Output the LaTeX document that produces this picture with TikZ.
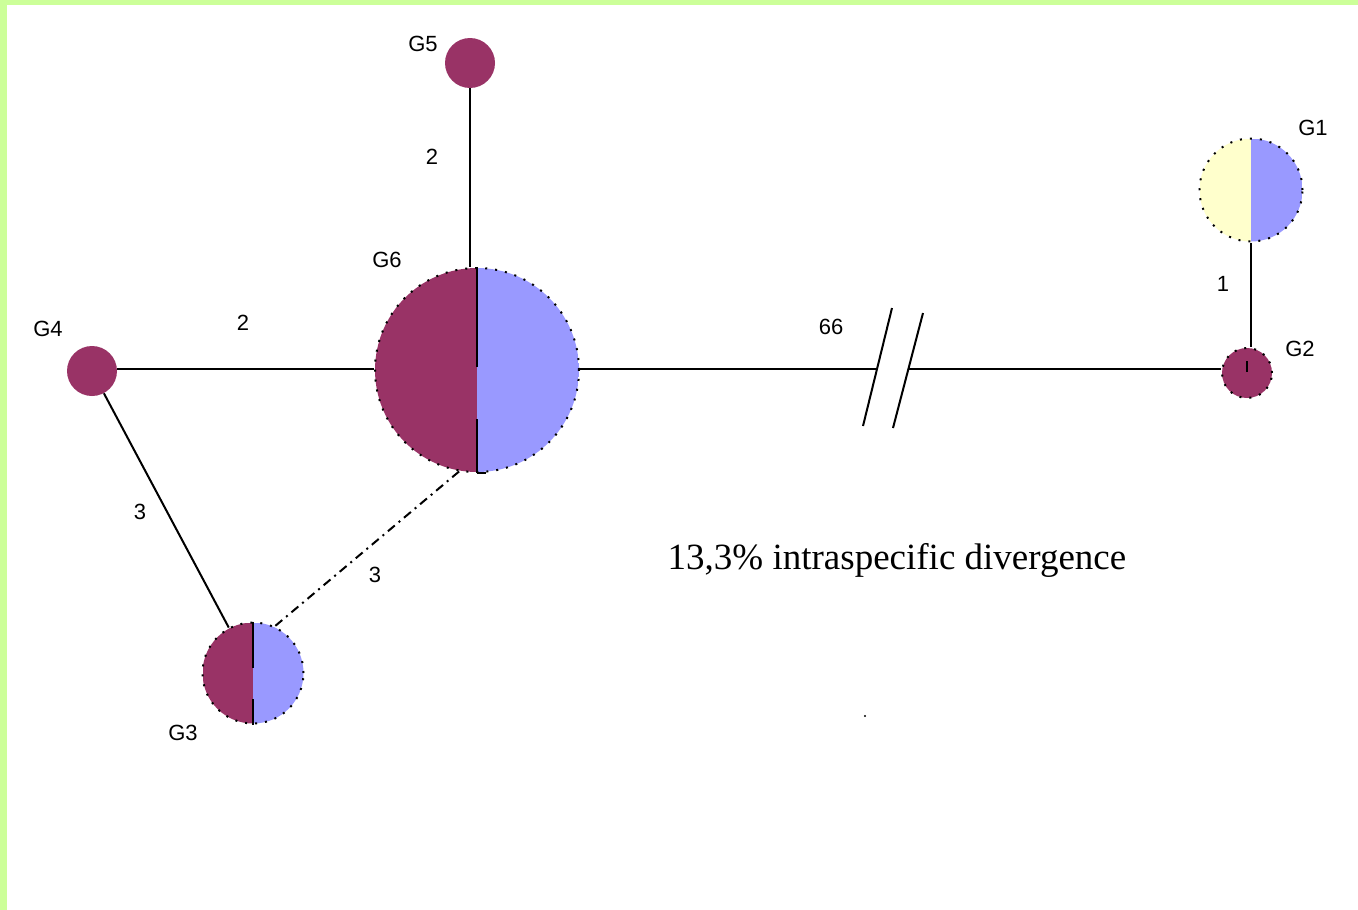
\documentclass[tikz,border=0pt]{standalone}
\usepackage{fontspec}
\setmainfont{Liberation Serif}
\newfontfamily\labfont{Liberation Sans}
\definecolor{hmaroon}{HTML}{993366}
\definecolor{hblue}{HTML}{9999FF}
\definecolor{hyellow}{HTML}{FFFFCC}
\definecolor{framegreen}{HTML}{CCFF99}
\begin{document}
\begin{tikzpicture}[x=1pt,y=-1pt,
  hap/.style={circle, inner sep=0pt, minimum size=#1},
  halves/.style 2 args={path picture={
      \fill[#1] (path picture bounding box.south west) rectangle (path picture bounding box.north);
      \fill[#2] (path picture bounding box.south) rectangle (path picture bounding box.north east);}},
  dotring/.style={draw=black, line width=2pt, dash pattern=on 2pt off 8pt},
  lab/.style={font=\labfont\fontsize{22}{22}\selectfont, inner sep=0pt},
  link/.style={draw=black, line width=2pt},
  dashdot/.style={draw=black, line width=2pt, dash pattern=on 9pt off 5pt on 2pt off 5pt},
  splitline/.style={draw=black, line width=2.4pt}
]
\useasboundingbox (0,0) rectangle (1358,910);
\fill[white] (0,0) rectangle (1358,910);
\fill[framegreen] (0,0) rectangle (1358,5);
\fill[framegreen] (0,0) rectangle (7,910);

% haplotype nodes
\node[hap=204pt, halves={hmaroon}{hblue}, dotring] (G6) at (477,370) {};
\node[hap=50pt, fill=hmaroon] (G5) at (470,63) {};
\node[hap=50pt, fill=hmaroon] (G4) at (92,371) {};
\node[hap=101pt, halves={hmaroon}{hblue}, dotring] (G3) at (253,673) {};
\node[hap=103pt, halves={hyellow}{hblue}, dotring] (G1) at (1251,190) {};
\node[hap=50pt, fill=hmaroon, dotring] (G2) at (1247,373) {};

% split lines
\draw[splitline] (G6.north) -- ++(0,100);
\draw[splitline] (G6.south) -- ++(0,-54);
\draw[splitline] (G6.south) -- ++(9,0);
\draw[splitline] (G3.north) -- ++(0,46);
\draw[splitline] (G3.south) -- ++(0,-26);
\draw[link] (G2.center) ++(0,-12) -- ++(0,11);

% break marks
\coordinate (b1) at (877,369);
\coordinate (b2) at (908,369);
\draw[link] (892,308) -- (863,426);
\draw[link] (923,313) -- (893,428);

% connectors
\draw[link] (G5.south) -- (G5.south |- G6.north);
\draw[link] (G4.east |- b1) -- (G6.west |- b1);
\draw[link] (G6.east |- b1) -- (b1);
\draw[link] (b2) -- (b2 -| G2.west);
\draw[link] (G1.south) -- (G1.south |- G2.north);
\draw[link] (G4) -- (G3);
\draw[dashdot] (G6.-100) -- (G3.65);

% labels
\node[lab] (lG5) at (423,44) {G5};
\node[lab] (lG6) at (387,260) {G6};
\node[lab] (lG4) at (48,329) {G4};
\node[lab] (lG3) at (183,733) {G3};
\node[lab] (lG1) at (1313,128) {G1};
\node[lab] (lG2) at (1300,349) {G2};
\node[lab] (e56) at (432,157) {2};
\node[lab] (e46) at (243,323) {2};
\node[lab] (e62) at (831,327) {66};
\node[lab] (e12) at (1223,284) {1};
\node[lab] (e43) at (140,512) {3};
\node[lab] (e63) at (375,575) {3};

\node[font=\fontsize{37}{37}\selectfont, inner sep=0pt] (div) at (897,560) {13,3\% intraspecific divergence};
\fill[black] (865,716) circle (1.2pt);
\end{tikzpicture}
\end{document}
